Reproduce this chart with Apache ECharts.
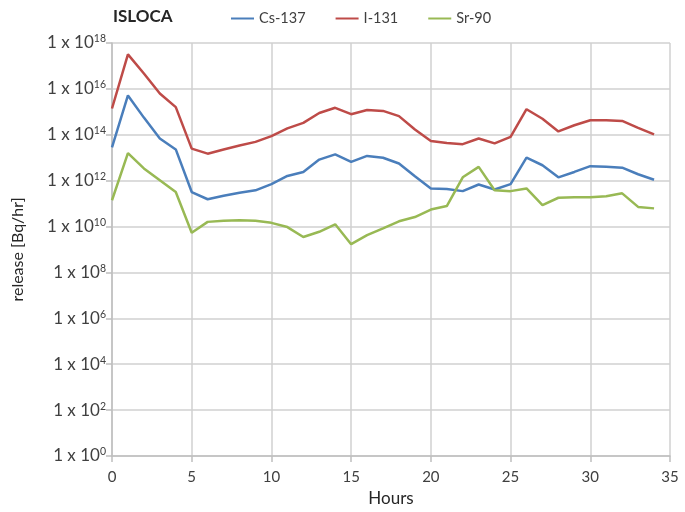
<!DOCTYPE html>
<html>
<head>
<meta charset="utf-8">
<script src="https://cdn.jsdelivr.net/npm/echarts@6/dist/echarts.min.js"></script>
<style>html,body{margin:0;padding:0;background:#fff}#c{width:685px;height:512px}</style>
</head>
<body>
<div id="c"></div>
<script>
var hours = [0,1,2,3,4,5,6,7,8,9,10,11,12,13,14,15,16,17,18,19,20,21,22,23,24,25,26,27,28,29,30,31,32,33,34];
var cs137 = [2.8e13,5.2e15,5.6e14,6.9e13,2.3e13,3.2e11,1.55e11,2.2e11,3.0e11,3.8e11,7.1e11,1.6e12,2.4e12,8.3e12,1.4e13,6.6e12,1.2e13,1.0e13,5.6e12,1.55e12,4.6e11,4.3e11,3.5e11,6.8e11,4.1e11,7.1e11,1.0e13,4.7e12,1.4e12,2.4e12,4.3e12,4.0e12,3.7e12,1.9e12,1.1e12];
var i131 = [1.4e15,3.2e17,4.7e16,6.3e15,1.6e15,2.5e13,1.5e13,2.3e13,3.4e13,4.9e13,8.7e13,1.9e14,3.3e14,8.9e14,1.5e15,7.9e14,1.2e15,1.1e15,6.5e14,1.7e14,5.4e13,4.4e13,3.9e13,6.9e13,4.2e13,8.1e13,1.3e15,5.0e14,1.4e14,2.6e14,4.3e14,4.3e14,4.0e14,2.0e14,1.05e14];
var sr90 = [1.4e11,1.6e13,3.4e12,1.05e12,3.2e11,5.4e9,1.6e10,1.8e10,1.9e10,1.8e10,1.45e10,9.5e9,3.5e9,5.9e9,1.25e10,1.7e9,4.2e9,8.3e9,1.7e10,2.6e10,5.5e10,7.8e10,1.4e12,4.0e12,3.8e11,3.5e11,4.6e11,8.5e10,1.8e11,1.9e11,1.9e11,2.1e11,2.8e11,7.2e10,6.2e10];
var seriesNames = ['Cs-137','I-131','Sr-90'];
var xTicks = [0,5,10,15,20,25,30,35];
var yExponents = [0,2,4,6,8,10,12,14,16,18];

function pairs(vals){ return hours.map(function(h,i){ return [h, vals[i]]; }); }

var font = 'Lato, "Open Sans", "Liberation Sans", sans-serif';
var chart = echarts.init(document.getElementById('c'), null, {renderer:'canvas'});
chart.setOption({
  animation: false,
  title: {
    text: 'ISLOCA', left: 108, top: 3,
    textStyle: {fontFamily: font, fontWeight: 'bold', fontSize: 17, color: '#262626'}
  },
  legend: {
    data: seriesNames, left: 226, top: 6, icon: 'rect', itemWidth: 23, itemHeight: 2,
    itemGap: 30,
    textStyle: {fontFamily: font, fontSize: 14.5, color: '#404040'}
  },
  grid: {left: 112, right: 15, top: 43, bottom: 56, containLabel: false},
  xAxis: {
    type: 'value', min: 0, max: 35, interval: 5,
    name: 'Hours', nameLocation: 'middle', nameGap: 30,
    nameTextStyle: {fontFamily: font, fontSize: 17, color: '#262626'},
    axisLine: {show: true, lineStyle: {color: '#bfbfbf', width: 1.5}},
    axisTick: {show: true, length: 6, lineStyle: {color: '#bfbfbf', width: 1.5}},
    axisLabel: {fontFamily: font, fontSize: 15, color: '#404040', margin: 14,
      formatter: function(v){ return xTicks.indexOf(v) >= 0 ? String(v) : ''; }},
    splitLine: {show: true, lineStyle: {color: '#d0d0d0', width: 1.5}}
  },
  yAxis: {
    type: 'log', logBase: 10, min: 1, max: 1e18, interval: 2,
    name: 'release [Bq/hr]', nameLocation: 'middle', nameGap: 86,
    nameTextStyle: {fontFamily: font, fontSize: 16, color: '#262626'},
    axisLine: {show: true, lineStyle: {color: '#bfbfbf', width: 1.5}},
    axisTick: {show: true, length: 6, lineStyle: {color: '#bfbfbf', width: 1.5}},
    axisLabel: {
      fontFamily: font, fontSize: 17, color: '#404040', margin: 6,
      formatter: function(v){
        var e = Math.round(Math.log10(v));
        return '1 x 10{sup|' + e + '}';
      },
      rich: {sup: {fontFamily: font, fontSize: 10.5, color: '#404040', verticalAlign: 'top', padding: [0,0,8,0]}}
    },
    splitLine: {show: true, lineStyle: {color: '#d0d0d0', width: 1.5}}
  },
  series: [
    {name: 'Cs-137', type: 'line', data: pairs(cs137), symbol: 'none', lineStyle: {width: 2.5, color: '#4a7ebb'}, itemStyle: {color: '#4a7ebb'}},
    {name: 'I-131', type: 'line', data: pairs(i131), symbol: 'none', lineStyle: {width: 2.5, color: '#be4b48'}, itemStyle: {color: '#be4b48'}},
    {name: 'Sr-90', type: 'line', data: pairs(sr90), symbol: 'none', lineStyle: {width: 2.5, color: '#98b954'}, itemStyle: {color: '#98b954'}}
  ]
});
</script>
</body>
</html>
